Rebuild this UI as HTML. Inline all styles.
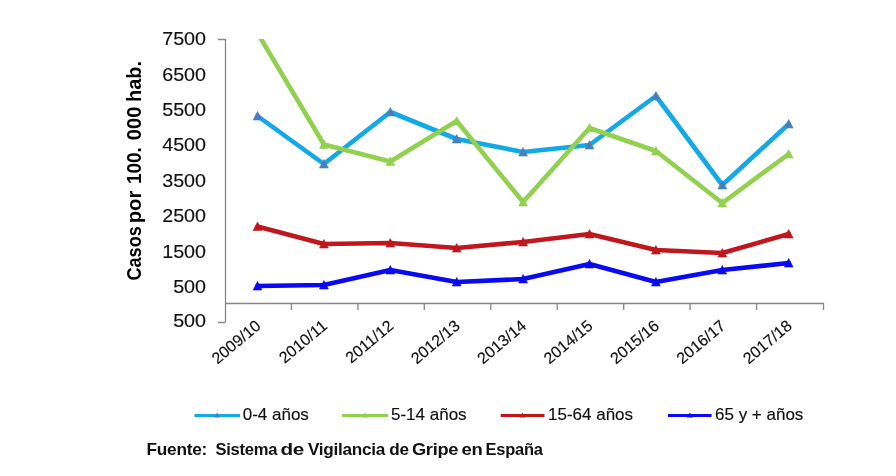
<!DOCTYPE html>
<html><head><meta charset="utf-8"><style>
html,body{margin:0;padding:0;background:#fff;}
body{width:896px;height:476px;overflow:hidden;}
svg{display:block;will-change:transform;}
text{font-family:"Liberation Sans",sans-serif;fill:#111;}
.yl{font-size:17.6px;letter-spacing:0px;stroke:#111;stroke-width:0.15px;}
.yt{font-size:19.5px;font-weight:bold;fill:#000;}
.xl{font-size:16px;stroke:#111;stroke-width:0.15px;}
.lg{font-size:17px;stroke:#111;stroke-width:0.15px;}
.ft{font-size:17px;letter-spacing:-0.26px;font-weight:bold;fill:#111;white-space:pre;}
</style></head><body>
<svg width="896" height="476" viewBox="0 0 896 476">
<rect width="896" height="476" fill="#fff"/>
<path d="M225.5 39V322M218 39.5H225.5M218 322.5H225.5" stroke="#868686" stroke-width="1.3" fill="none"/>
<path d="M225 303.5H823.5V310" stroke="#868686" stroke-width="1.3" fill="none"/>
<path d="M291.4 303V310" stroke="#868686" stroke-width="1.3"/>
<path d="M357.9 303V310" stroke="#868686" stroke-width="1.3"/>
<path d="M424.3 303V310" stroke="#868686" stroke-width="1.3"/>
<path d="M490.8 303V310" stroke="#868686" stroke-width="1.3"/>
<path d="M557.2 303V310" stroke="#868686" stroke-width="1.3"/>
<path d="M623.7 303V310" stroke="#868686" stroke-width="1.3"/>
<path d="M690.1 303V310" stroke="#868686" stroke-width="1.3"/>
<path d="M756.6 303V310" stroke="#868686" stroke-width="1.3"/>
<text transform="translate(206,45.3) scale(1.12,1)" text-anchor="end" class="yl">7500</text>
<text transform="translate(206,80.7) scale(1.12,1)" text-anchor="end" class="yl">6500</text>
<text transform="translate(206,116.0) scale(1.12,1)" text-anchor="end" class="yl">5500</text>
<text transform="translate(206,151.4) scale(1.12,1)" text-anchor="end" class="yl">4500</text>
<text transform="translate(206,186.8) scale(1.12,1)" text-anchor="end" class="yl">3500</text>
<text transform="translate(206,222.2) scale(1.12,1)" text-anchor="end" class="yl">2500</text>
<text transform="translate(206,257.6) scale(1.12,1)" text-anchor="end" class="yl">1500</text>
<text transform="translate(206,292.9) scale(1.12,1)" text-anchor="end" class="yl">500</text>
<text transform="translate(206,327.3) scale(1.12,1)" text-anchor="end" class="yl">500</text>
<text transform="translate(141,280.6) rotate(-90)" class="yt" textLength="54.4" lengthAdjust="spacingAndGlyphs">Casos</text>
<text transform="translate(141,223.3) rotate(-90)" class="yt" textLength="32.6" lengthAdjust="spacingAndGlyphs">por</text>
<text transform="translate(141,184.0) rotate(-90)" class="yt" textLength="36.8" lengthAdjust="spacingAndGlyphs">100.</text>
<text transform="translate(141,140.2) rotate(-90)" class="yt" textLength="33.5" lengthAdjust="spacingAndGlyphs">000</text>
<text transform="translate(141,101.9) rotate(-90)" class="yt" textLength="40.9" lengthAdjust="spacingAndGlyphs">hab.</text>
<text transform="translate(261.8,327.5) rotate(-40)" text-anchor="end" class="xl">2009/10</text>
<text transform="translate(328.2,327.5) rotate(-40)" text-anchor="end" class="xl">2010/11</text>
<text transform="translate(394.6,327.5) rotate(-40)" text-anchor="end" class="xl">2011/12</text>
<text transform="translate(461.0,327.5) rotate(-40)" text-anchor="end" class="xl">2012/13</text>
<text transform="translate(527.4,327.5) rotate(-40)" text-anchor="end" class="xl">2013/14</text>
<text transform="translate(593.8,327.5) rotate(-40)" text-anchor="end" class="xl">2014/15</text>
<text transform="translate(660.2,327.5) rotate(-40)" text-anchor="end" class="xl">2015/16</text>
<text transform="translate(726.6,327.5) rotate(-40)" text-anchor="end" class="xl">2016/17</text>
<text transform="translate(793.0,327.5) rotate(-40)" text-anchor="end" class="xl">2017/18</text>
<defs><clipPath id="pc"><rect x="225" y="39" width="600" height="284"/></clipPath></defs>
<g clip-path="url(#pc)">
<polyline points="257.5,116 323.9,164 390.3,112 456.7,139 523.1,152 589.5,145 655.9,96 722.3,185 788.7,124" fill="none" stroke="#12a9e6" stroke-width="4.6" stroke-linejoin="round" stroke-linecap="round"/>
<polyline points="257.5,33 323.9,144.5 390.3,161.5 456.7,121 523.1,202 589.5,128 655.9,151 722.3,203 788.7,154" fill="none" stroke="#92d050" stroke-width="4.6" stroke-linejoin="round" stroke-linecap="round"/>
<polyline points="257.5,226.5 323.9,244 390.3,243 456.7,248 523.1,242 589.5,234 655.9,250 722.3,253 788.7,234" fill="none" stroke="#c0171d" stroke-width="4.6" stroke-linejoin="round" stroke-linecap="round"/>
<polyline points="257.5,286 323.9,285 390.3,270 456.7,282 523.1,279 589.5,264 655.9,282 722.3,270 788.7,263" fill="none" stroke="#0a0af0" stroke-width="4.6" stroke-linejoin="round" stroke-linecap="round"/>
<path d="M257.5 111.5L261.9 120.0H253.1Z" fill="#4a7ebb" stroke="#4a7ebb" stroke-width="0.6" stroke-linejoin="round"/>
<path d="M323.9 159.5L328.3 168.0H319.5Z" fill="#4a7ebb" stroke="#4a7ebb" stroke-width="0.6" stroke-linejoin="round"/>
<path d="M390.3 107.5L394.7 116.0H385.9Z" fill="#4a7ebb" stroke="#4a7ebb" stroke-width="0.6" stroke-linejoin="round"/>
<path d="M456.7 134.5L461.1 143.0H452.3Z" fill="#4a7ebb" stroke="#4a7ebb" stroke-width="0.6" stroke-linejoin="round"/>
<path d="M523.1 147.5L527.5 156.0H518.7Z" fill="#4a7ebb" stroke="#4a7ebb" stroke-width="0.6" stroke-linejoin="round"/>
<path d="M589.5 140.5L593.9 149.0H585.1Z" fill="#4a7ebb" stroke="#4a7ebb" stroke-width="0.6" stroke-linejoin="round"/>
<path d="M655.9 91.5L660.3 100.0H651.5Z" fill="#4a7ebb" stroke="#4a7ebb" stroke-width="0.6" stroke-linejoin="round"/>
<path d="M722.3 180.5L726.7 189.0H717.9Z" fill="#4a7ebb" stroke="#4a7ebb" stroke-width="0.6" stroke-linejoin="round"/>
<path d="M788.7 119.5L793.1 128.0H784.3Z" fill="#4a7ebb" stroke="#4a7ebb" stroke-width="0.6" stroke-linejoin="round"/>
<path d="M257.5 28.5L261.9 37.0H253.1Z" fill="#92d050" stroke="#92d050" stroke-width="0.6" stroke-linejoin="round"/>
<path d="M323.9 140.0L328.3 148.5H319.5Z" fill="#92d050" stroke="#92d050" stroke-width="0.6" stroke-linejoin="round"/>
<path d="M390.3 157.0L394.7 165.5H385.9Z" fill="#92d050" stroke="#92d050" stroke-width="0.6" stroke-linejoin="round"/>
<path d="M456.7 116.5L461.1 125.0H452.3Z" fill="#92d050" stroke="#92d050" stroke-width="0.6" stroke-linejoin="round"/>
<path d="M523.1 197.5L527.5 206.0H518.7Z" fill="#92d050" stroke="#92d050" stroke-width="0.6" stroke-linejoin="round"/>
<path d="M589.5 123.5L593.9 132.0H585.1Z" fill="#92d050" stroke="#92d050" stroke-width="0.6" stroke-linejoin="round"/>
<path d="M655.9 146.5L660.3 155.0H651.5Z" fill="#92d050" stroke="#92d050" stroke-width="0.6" stroke-linejoin="round"/>
<path d="M722.3 198.5L726.7 207.0H717.9Z" fill="#92d050" stroke="#92d050" stroke-width="0.6" stroke-linejoin="round"/>
<path d="M788.7 149.5L793.1 158.0H784.3Z" fill="#92d050" stroke="#92d050" stroke-width="0.6" stroke-linejoin="round"/>
<path d="M257.5 222.0L261.9 230.5H253.1Z" fill="#c0171d" stroke="#c0171d" stroke-width="0.6" stroke-linejoin="round"/>
<path d="M323.9 239.5L328.3 248.0H319.5Z" fill="#c0171d" stroke="#c0171d" stroke-width="0.6" stroke-linejoin="round"/>
<path d="M390.3 238.5L394.7 247.0H385.9Z" fill="#c0171d" stroke="#c0171d" stroke-width="0.6" stroke-linejoin="round"/>
<path d="M456.7 243.5L461.1 252.0H452.3Z" fill="#c0171d" stroke="#c0171d" stroke-width="0.6" stroke-linejoin="round"/>
<path d="M523.1 237.5L527.5 246.0H518.7Z" fill="#c0171d" stroke="#c0171d" stroke-width="0.6" stroke-linejoin="round"/>
<path d="M589.5 229.5L593.9 238.0H585.1Z" fill="#c0171d" stroke="#c0171d" stroke-width="0.6" stroke-linejoin="round"/>
<path d="M655.9 245.5L660.3 254.0H651.5Z" fill="#c0171d" stroke="#c0171d" stroke-width="0.6" stroke-linejoin="round"/>
<path d="M722.3 248.5L726.7 257.0H717.9Z" fill="#c0171d" stroke="#c0171d" stroke-width="0.6" stroke-linejoin="round"/>
<path d="M788.7 229.5L793.1 238.0H784.3Z" fill="#c0171d" stroke="#c0171d" stroke-width="0.6" stroke-linejoin="round"/>
<path d="M257.5 281.5L261.9 290.0H253.1Z" fill="#0a0af0" stroke="#0a0af0" stroke-width="0.6" stroke-linejoin="round"/>
<path d="M323.9 280.5L328.3 289.0H319.5Z" fill="#0a0af0" stroke="#0a0af0" stroke-width="0.6" stroke-linejoin="round"/>
<path d="M390.3 265.5L394.7 274.0H385.9Z" fill="#0a0af0" stroke="#0a0af0" stroke-width="0.6" stroke-linejoin="round"/>
<path d="M456.7 277.5L461.1 286.0H452.3Z" fill="#0a0af0" stroke="#0a0af0" stroke-width="0.6" stroke-linejoin="round"/>
<path d="M523.1 274.5L527.5 283.0H518.7Z" fill="#0a0af0" stroke="#0a0af0" stroke-width="0.6" stroke-linejoin="round"/>
<path d="M589.5 259.5L593.9 268.0H585.1Z" fill="#0a0af0" stroke="#0a0af0" stroke-width="0.6" stroke-linejoin="round"/>
<path d="M655.9 277.5L660.3 286.0H651.5Z" fill="#0a0af0" stroke="#0a0af0" stroke-width="0.6" stroke-linejoin="round"/>
<path d="M722.3 265.5L726.7 274.0H717.9Z" fill="#0a0af0" stroke="#0a0af0" stroke-width="0.6" stroke-linejoin="round"/>
<path d="M788.7 258.5L793.1 267.0H784.3Z" fill="#0a0af0" stroke="#0a0af0" stroke-width="0.6" stroke-linejoin="round"/>
</g>
<path d="M194.5 415.5H240" stroke="#12a9e6" stroke-width="3"/>
<path d="M217.2 412.5L220.2 417.5H214.2Z" fill="#4a7ebb"/>
<text x="242.7" y="419.5" class="lg">0-4 años</text>
<path d="M342 415.5H388" stroke="#92d050" stroke-width="3"/>
<path d="M365.0 412.5L368.0 417.5H362.0Z" fill="#92d050"/>
<text x="391" y="419.5" class="lg">5-14 años</text>
<path d="M500.7 415.5H544.5" stroke="#c0171d" stroke-width="3"/>
<path d="M522.6 412.5L525.6 417.5H519.6Z" fill="#c0171d"/>
<text x="548" y="419.5" class="lg">15-64 años</text>
<path d="M668 415.5H711.6" stroke="#0a0af0" stroke-width="3"/>
<path d="M689.8 412.5L692.8 417.5H686.8Z" fill="#0a0af0"/>
<text x="715" y="419.5" class="lg">65 y + años</text>
<text x="146.6" y="454.6" class="ft" textLength="60.4" lengthAdjust="spacingAndGlyphs">Fuente:</text>
<text x="215.4" y="454.6" class="ft" textLength="61.7" lengthAdjust="spacingAndGlyphs">Sistema</text>
<text x="280.5" y="454.6" class="ft" textLength="23.5" lengthAdjust="spacingAndGlyphs">de</text>
<text x="307.9" y="454.6" class="ft" textLength="77.2" lengthAdjust="spacingAndGlyphs">Vigilancia</text>
<text x="389.2" y="454.6" class="ft" textLength="19.5" lengthAdjust="spacingAndGlyphs">de</text>
<text x="411.9" y="454.6" class="ft" textLength="46.3" lengthAdjust="spacingAndGlyphs">Gripe</text>
<text x="461.4" y="454.6" class="ft" textLength="21.0" lengthAdjust="spacingAndGlyphs">en</text>
<text x="485.6" y="454.6" class="ft" textLength="57.0" lengthAdjust="spacingAndGlyphs">España</text>
</svg>
</body></html>
